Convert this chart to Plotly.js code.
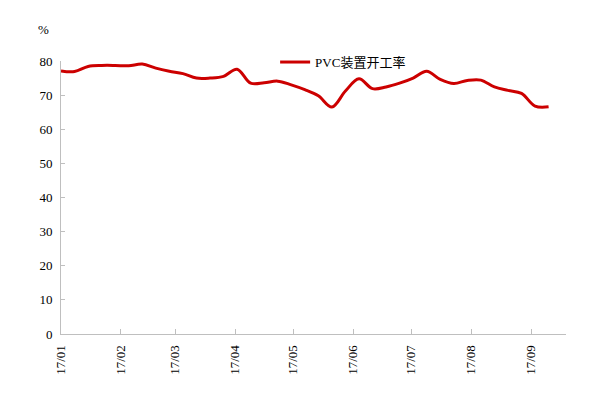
<!DOCTYPE html>
<html>
<head>
<meta charset="utf-8">
<script src="https://cdn.plot.ly/plotly-3.0.1.min.js"></script>
<style>html,body{margin:0;padding:0;background:#fff;}#chart{width:592px;height:393px;}</style>
</head>
<body>
<div id="chart"></div>
<script>
const seriesName = 'PVC装置开工率';
const dates = ['2017-01-01','2017-01-08','2017-01-15','2017-01-22','2017-01-29','2017-02-05','2017-02-12','2017-02-19','2017-02-26','2017-03-05','2017-03-12','2017-03-19','2017-03-26','2017-04-02','2017-04-09','2017-04-16','2017-04-23','2017-04-30','2017-05-07','2017-05-14','2017-05-21','2017-05-28','2017-06-04','2017-06-11','2017-06-18','2017-06-25','2017-07-02','2017-07-09','2017-07-16','2017-07-23','2017-07-30','2017-08-06','2017-08-13','2017-08-20','2017-08-27','2017-09-03','2017-09-10'];
const rates = [77.1,76.9,78.4,78.7,78.7,78.6,79.1,77.9,77.0,76.3,75.0,75.0,75.5,77.6,73.5,73.6,74.1,73.0,71.6,69.8,66.5,71.2,74.8,71.9,72.4,73.5,75.0,77.0,74.6,73.4,74.3,74.4,72.4,71.4,70.5,66.8,66.6];
const yTicks = [0,10,20,30,40,50,60,70,80];
const xTickVals = ['2017-01-01','2017-02-01','2017-03-01','2017-04-01','2017-05-01','2017-06-01','2017-07-01','2017-08-01','2017-09-01'];
const xTickText = ['17/01','17/02','17/03','17/04','17/05','17/06','17/07','17/08','17/09'];

const serif = '"Liberation Serif", "Times New Roman", serif';
const trace = {
  x: dates, y: rates, type: 'scatter', mode: 'lines', name: seriesName,
  line: {color: '#cc0000', width: 3, shape: 'spline', smoothing: 1}
};
const layout = {
  width: 592, height: 393,
  margin: {l: 61, r: 26, t: 61, b: 59},
  paper_bgcolor: '#fff', plot_bgcolor: '#fff',
  font: {family: serif, size: 13, color: '#000'},
  showlegend: true,
  legend: {x: 0.424, y: 1.051, xanchor: 'left', yanchor: 'top', bgcolor: 'rgba(0,0,0,0)',
           font: {family: '"Liberation Serif", "Noto Sans CJK SC", serif', size: 13, color: '#000'}},
  xaxis: {
    type: 'date', range: ['2017-01-01', '2017-09-19'],
    tickmode: 'array', tickvals: xTickVals, ticktext: xTickText, tickangle: -90,
    ticks: 'inside', ticklen: 5, tickcolor: '#bfbfbf', showgrid: false, zeroline: false,
    showline: true, linecolor: '#bfbfbf', linewidth: 1, ticklabelstandoff: 5,
    tickfont: {family: serif, size: 13, color: '#000'}
  },
  yaxis: {
    range: [0, 80], tickmode: 'array', tickvals: yTicks,
    ticks: 'inside', ticklen: 4, tickcolor: '#bfbfbf', showgrid: false, zeroline: false,
    showline: true, linecolor: '#bfbfbf', linewidth: 1, ticklabelstandoff: 5,
    tickfont: {family: serif, size: 13, color: '#000'}
  },
  annotations: [{text: '%', xref: 'paper', yref: 'paper', x: -0.034, y: 1.114,
    xanchor: 'center', yanchor: 'middle', showarrow: false, font: {family: serif, size: 13, color: '#000'}}]
};
Plotly.newPlot('chart', [trace], layout, {staticPlot: true, displayModeBar: false});
</script>
</body>
</html>
